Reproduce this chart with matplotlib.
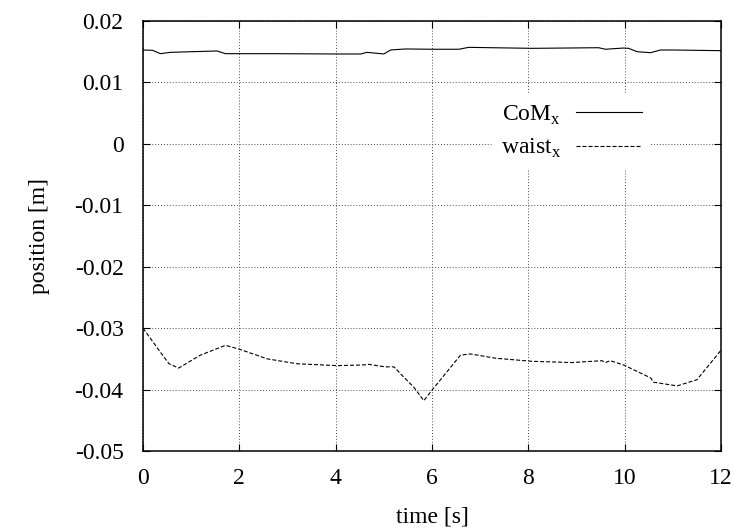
import matplotlib
matplotlib.use('Agg')
import matplotlib.pyplot as plt

plt.rcParams['font.family'] = ['Liberation Serif', 'DejaVu Serif']
plt.rcParams['mathtext.fontset'] = 'custom'
plt.rcParams['mathtext.rm'] = 'Liberation Serif'
plt.rcParams['axes.unicode_minus'] = False

# Werte
com_t = [0, 0.2, 0.36, 0.57, 1.54, 1.71, 2.72, 4.03, 4.52, 4.65, 5.0, 5.14, 5.45,
         6.0, 6.56, 6.76, 8.08, 9.46, 9.6, 9.98, 10.08, 10.26, 10.54, 10.74, 11.0, 12.0]
com_x = [0.01528, 0.01523, 0.01468, 0.0149, 0.01512, 0.01468, 0.01468, 0.01463,
         0.01463, 0.0149, 0.01463, 0.01528, 0.01545, 0.0154, 0.0154, 0.01571,
         0.01555, 0.01565, 0.0154, 0.0156, 0.01555, 0.0150, 0.01484, 0.01528,
         0.01528, 0.01517]

waist_t = [0, 0.36, 0.54, 0.74, 1.19, 1.71, 1.99, 2.58, 3.2, 4.03, 4.55, 4.69, 5.03,
           5.21, 5.38, 5.62, 5.83, 6.0, 6.28, 6.59, 6.8, 7.32, 8.08, 8.91, 9.53,
           9.6, 9.7, 9.98, 10.54, 10.6, 11.09, 11.5, 12.0]
waist_x = [-0.0300, -0.0339, -0.0358, -0.0365, -0.0344, -0.0328, -0.0334, -0.0350,
           -0.0358, -0.0361, -0.0360, -0.0359, -0.0363, -0.0363, -0.0377, -0.0396,
           -0.0418, -0.0401, -0.0374, -0.0344, -0.0342, -0.0349, -0.0354, -0.0356,
           -0.0353, -0.0356, -0.0353, -0.0360, -0.0381, -0.0388, -0.0394, -0.0384,
           -0.0336]

xticks = [0, 2, 4, 6, 8, 10, 12]
yticks = [0.02, 0.01, 0, -0.01, -0.02, -0.03, -0.04, -0.05]
ylabels = ['0.02', '0.01', '0', '-0.01', '-0.02', '-0.03', '-0.04', '-0.05']

FS = 17

fig = plt.figure(figsize=(7.34, 5.30), dpi=100)
ax = fig.add_axes([143 / 734, 79 / 530, 578 / 734, 430 / 530])

ax.plot(com_t, com_x, color='k', lw=0.8, label=r'CoM$_\mathrm{x}$')
ax.plot(waist_t, waist_x, color='k', lw=0.8, linestyle=(0, (3.6, 1.8)),
        label=r'waist$_\mathrm{x}$')

ax.set_xlim(0, 12)
ax.set_ylim(-0.05, 0.02)
ax.set_xticks(xticks)
ax.set_yticks(yticks)
ax.set_yticklabels(ylabels)
ax.tick_params(direction='in', length=5, width=0.8, top=True, right=True,
               labelsize=FS, pad=12)
ax.tick_params(axis='y', pad=14)
ax.grid(True, color='0.3', lw=0.7, linestyle=(0, (1, 2)))
for s in ax.spines.values():
    s.set_linewidth(1.1)

ax.set_xlabel('time [s]', fontsize=FS, labelpad=13)
ax.set_ylabel('position [m]', fontsize=FS, labelpad=18)

leg = ax.legend(loc='upper right', bbox_to_anchor=(0.879, 0.83), borderaxespad=0,
                markerfirst=False, fontsize=FS, frameon=True, fancybox=False,
                framealpha=1, facecolor='white', edgecolor='none',
                handlelength=2.8, handletextpad=0.6, labelspacing=0.43, borderpad=0.4)
leg.set_zorder(5)

fig.savefig('out.png', dpi=100)
